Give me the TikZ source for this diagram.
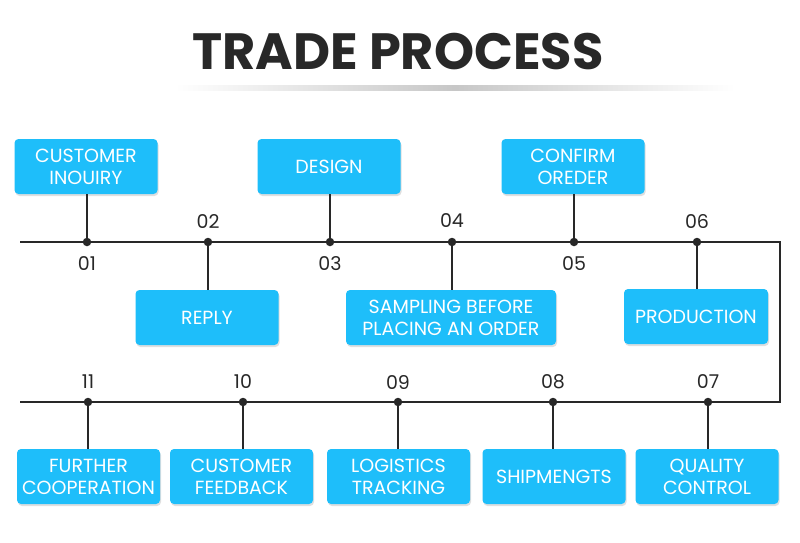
\documentclass[tikz,border=0pt]{standalone}
\usepackage{fontspec}
\setmainfont{Poppins}
\usetikzlibrary{shadows}
\definecolor{boxblue}{RGB}{30,190,250}
\definecolor{ink}{RGB}{40,40,40}
\begin{document}
\begin{tikzpicture}[x=1pt,y=-1pt,
  stepbox/.style={rounded corners=4pt, fill=boxblue, text=white, minimum width=143pt, minimum height=55pt, align=center, inner sep=1pt,
    font=\fontsize{19}{22}\selectfont,
    drop shadow={opacity=0.25, shadow xshift=1pt, shadow yshift=-2pt}},
  dotnode/.style={circle, fill=ink, inner sep=0pt, minimum size=8.5pt},
  numlabel/.style={text=ink, font=\fontsize{19}{19}\selectfont},
  flow/.style={draw=ink, line width=1.2pt}]
\useasboundingbox (0,0) rectangle (800,542);
\fill[white] (0,0) rectangle (800,542);
% title
\node[text=ink, font=\fontsize{51}{51}\selectfont\bfseries] (title) at (398,52) {TRADE PROCESS};
\shade[left color=white, right color=white, middle color=black!22] (175,85) rectangle (735,90);
% main line
\coordinate (ls) at (20,242);
\coordinate (c1) at (780,242);
\coordinate (c2) at (780,402);
\coordinate (le) at (20,402);
\draw[flow] (ls) -- (c1) -- (c2) -- (le);
% dots
\node[dotnode] (d1) at (87,242) {};
\node[dotnode] (d2) at (208,242) {};
\node[dotnode] (d3) at (330,242) {};
\node[dotnode] (d4) at (452,242) {};
\node[dotnode] (d5) at (574,242) {};
\node[dotnode] (d6) at (697,242) {};
\node[dotnode] (d7) at (708,402) {};
\node[dotnode] (d8) at (553,402) {};
\node[dotnode] (d9) at (398,402) {};
\node[dotnode] (d10) at (243,402) {};
\node[dotnode] (d11) at (88,402) {};
% numbers
\node[numlabel] (n1) at (87,264) {01};
\node[numlabel] (n2) at (208,221) {02};
\node[numlabel] (n3) at (330,264) {03};
\node[numlabel] (n4) at (452,221) {04};
\node[numlabel] (n5) at (574,264) {05};
\node[numlabel] (n6) at (697,221) {06};
\node[numlabel] (n7) at (708,382) {07};
\node[numlabel] (n8) at (553,382) {08};
\node[numlabel] (n9) at (398,382) {09};
\node[numlabel] (n10) at (243,382) {10};
\node[numlabel] (n11) at (88,382) {11};
% boxes
\node[stepbox] (b1) at (86,166.5) {CUSTOMER\\INOUIRY};
\node[stepbox] (b2) at (207,317.5) {REPLY};
\node[stepbox] (b3) at (329,166.5) {DESIGN};
\node[stepbox, minimum width=210pt] (b4) at (451,317.5) {SAMPLING BEFORE\\PLACING AN ORDER};
\node[stepbox] (b5) at (573,166.5) {CONFIRM\\OREDER};
\node[stepbox, minimum width=144pt] (b6) at (696,316.5) {PRODUCTION};
\node[stepbox] (b7) at (707,476.5) {QUALITY\\CONTROL};
\node[stepbox] (b8) at (554,476.5) {SHIPMENGTS};
\node[stepbox] (b9) at (398.5,476.5) {LOGISTICS\\TRACKING};
\node[stepbox] (b10) at (241.5,476.5) {CUSTOMER\\FEEDBACK};
\node[stepbox] (b11) at (88.5,476.5) {FURTHER\\COOPERATION};
% connectors
\draw[flow] (d1) -- (d1 |- b1.south);
\draw[flow] (d2) -- (d2 |- b2.north);
\draw[flow] (d3) -- (d3 |- b3.south);
\draw[flow] (d4) -- (d4 |- b4.north);
\draw[flow] (d5) -- (d5 |- b5.south);
\draw[flow] (d6) -- (d6 |- b6.north);
\draw[flow] (d7) -- (d7 |- b7.north);
\draw[flow] (d8) -- (d8 |- b8.north);
\draw[flow] (d9) -- (d9 |- b9.north);
\draw[flow] (d10) -- (d10 |- b10.north);
\draw[flow] (d11) -- (d11 |- b11.north);
\end{tikzpicture}
\end{document}
